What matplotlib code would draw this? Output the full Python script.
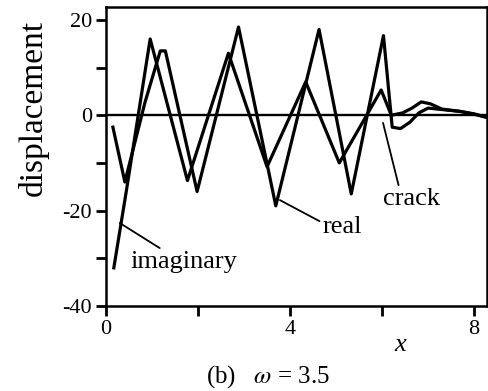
import matplotlib
matplotlib.use('Agg')
import matplotlib.pyplot as plt

# real and imaginary parts of the displacement, sampled at the turning points
real_x = [0.15, 0.41, 0.85, 1.18, 1.29, 1.98, 2.88, 3.69, 4.63, 5.33, 6.03, 6.22, 6.4, 6.6, 6.8, 7.0, 7.3, 7.7, 8.0, 8.3]
real_y = [-2.5, -14, 2.8, 13.5, 13.5, -16, 18.5, -19, 18, -16.5, 16.7, -2.5, -2.8, -1.5, 0.5, 1.5, 1.2, 0.8, 0.2, -0.5]

imag_x = [0.17, 0.44, 0.96, 1.77, 2.66, 3.5, 4.34, 5.07, 5.98, 6.2, 6.45, 6.65, 6.85, 7.05, 7.3, 7.7, 8.0, 8.3]
imag_y = [-32, -16, 16, -13.7, 13, -10.8, 7, -10, 5.3, 0, 0.5, 1.5, 2.8, 2.4, 1.3, 0.8, 0.3, -0.5]

x_ticks = [0, 2, 4, 6, 8]
x_tick_labels = ['0', '', '4', '', '8']
y_ticks = [-40, -30, -20, -10, 0, 10, 20]
y_tick_labels = ['-40', '', '-20', '', '0', '', '20']

plt.rcParams['font.family'] = ['Liberation Serif', 'DejaVu Serif']
plt.rcParams['mathtext.fontset'] = 'stix'

fig = plt.figure(figsize=(4.88, 3.91), dpi=100)
ax = fig.add_axes([106 / 488, 1 - 306 / 391, (487 - 106) / 488, (306 - 7) / 391])

ax.axhline(0, color='black', lw=1.7, zorder=1)
ax.plot(real_x, real_y, color='black', lw=2.3, solid_joinstyle='round', zorder=3)
ax.plot(imag_x, imag_y, color='black', lw=2.3, solid_joinstyle='round', zorder=3)

ax.set_xlim(0, 8.28)
ax.set_ylim(-40, 22.7)
ax.set_xticks(x_ticks)
ax.set_xticklabels(x_tick_labels)
ax.set_yticks(y_ticks)
ax.set_yticklabels(y_tick_labels)
ax.tick_params(direction='out', length=7, width=2, labelsize=16, pad=3)
for s in ax.spines.values():
    s.set_linewidth(1.8)

# labels with leader lines
ax.annotate('real', xy=(3.78, -17.8), xytext=(4.70, -24.7), fontsize=19,
            ha='left', va='baseline',
            arrowprops=dict(arrowstyle='-', color='black', lw=1.3, shrinkA=0, shrinkB=0,
                            relpos=(0, 0.7)))
ax.annotate('imaginary', xy=(0.30, -22.6), xytext=(0.52, -32), fontsize=19,
            ha='left', va='baseline',
            arrowprops=dict(arrowstyle='-', color='black', lw=1.3, shrinkA=0, shrinkB=0,
                            relpos=(0.32, 1.0)))
ax.annotate('crack', xy=(6.02, -1.6), xytext=(6.02, -18.8), fontsize=19,
            ha='left', va='baseline',
            arrowprops=dict(arrowstyle='-', color='black', lw=1.3, shrinkA=0, shrinkB=0,
                            relpos=(0.28, 1.05)))

fig.text(33 / 488, 1 - 108 / 391, 'displacement', rotation=90, fontsize=24,
         ha='center', va='center')
fig.text(400 / 488, 1 - 345 / 391, 'x', fontsize=19, style='italic',
         ha='center', va='center')
fig.text(268 / 488, 1 - 377 / 391, r'(b)   $\omega$ = 3.5', fontsize=18,
         ha='center', va='center')

fig.savefig('out.png', dpi=100)
